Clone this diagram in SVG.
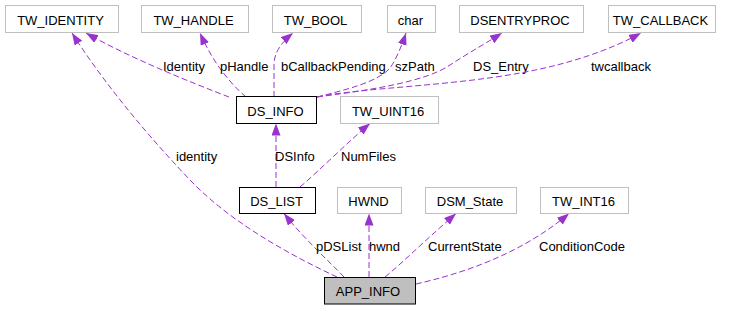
<svg xmlns="http://www.w3.org/2000/svg" width="733" height="309" viewBox="0 0 733 309">
  <style>
    text { font-family: "Liberation Sans", Arial, sans-serif; font-size: 13px; fill: #000; }
    .node text { text-anchor: middle; }
    .box { fill: #fff; stroke: #bfbfbf; stroke-width: 1; }
    .doc { fill: #fff; stroke: #000; stroke-width: 1; }
    .root { fill: #bfbfbf; stroke: #000; stroke-width: 1; }
    .edge { fill: none; stroke: #9a32cd; stroke-width: 1; stroke-dasharray: 6,3; marker-end: url(#arr); }
  </style>
  <defs>
    <marker id="arr" markerUnits="userSpaceOnUse" markerWidth="12" markerHeight="9" refX="12" refY="4.5" orient="auto">
      <path d="M0,0 L12,4.5 L0,9 z" fill="#9a32cd"/>
    </marker>
  </defs>
  <rect width="733" height="309" fill="#fff"/>

  <!-- usage connectors -->
  <g id="edges">
    <path class="edge" d="M229,97 C190,82 130,58 86,33"/>
    <text x="163" y="70.5">Identity</text>
    <path class="edge" d="M337,277 C290,255 230,222 190,180 C150,138 105,85 72,33"/>
    <text x="176" y="160.5">identity</text>
    <path class="edge" d="M246,97 C232,85 214,65 200,33"/>
    <text x="220" y="70.5">pHandle</text>
    <path class="edge" d="M274,97 L274,65 C274,52 282,42 293,33"/>
    <text x="281" y="70.5">bCallbackPending</text>
    <path class="edge" d="M317,97 C345,90 378,82 390,68 C396,60 402,45 406,33"/>
    <text x="395" y="70.5">szPath</text>
    <path class="edge" d="M317,97 C370,90 425,82 450,65 C470,52 488,42 502,33"/>
    <text x="473" y="70.5">DS_Entry</text>
    <path class="edge" d="M317,97 C360,88 450,86 520,73 C570,64 610,50 641,33"/>
    <text x="591" y="70.5">twcallback</text>
    <path class="edge" d="M276,187 L276,123.5"/>
    <text x="275" y="160.5">DSInfo</text>
    <path class="edge" d="M300,187 C320,170 350,140 370,123.5"/>
    <text x="341" y="160.5">NumFiles</text>
    <path class="edge" d="M344,277 C330,262 305,240 284,213.5"/>
    <text x="316" y="250.5">pDSList</text>
    <path class="edge" d="M369,277 L369,213.5"/>
    <text x="369" y="250.5">hwnd</text>
    <path class="edge" d="M385,277 C400,265 420,245 456,213.5"/>
    <text x="428" y="250.5">CurrentState</text>
    <path class="edge" d="M416,284 C460,274 520,255 569,213.5"/>
    <text x="539" y="250.5">ConditionCode</text>
  </g>

  <!-- nodes -->
  <g id="TW_IDENTITY" class="node"><rect class="box" x="5.5" y="5.5" width="113" height="27"/><text x="60.5" y="24.5">TW_IDENTITY</text></g>
  <g id="TW_HANDLE" class="node"><rect class="box" x="141.5" y="5.5" width="107" height="27"/><text x="193.5" y="24.5">TW_HANDLE</text></g>
  <g id="TW_BOOL" class="node"><rect class="box" x="272.5" y="5.5" width="89" height="27"/><text x="315.5" y="24.5">TW_BOOL</text></g>
  <g id="char" class="node"><rect class="box" x="387.5" y="5.5" width="48" height="27"/><text x="410.5" y="24.5">char</text></g>
  <g id="DSENTRYPROC" class="node"><rect class="box" x="459.5" y="5.5" width="124" height="27"/><text x="520" y="24.5">DSENTRYPROC</text></g>
  <g id="TW_CALLBACK" class="node"><rect class="box" x="608.5" y="5.5" width="107" height="27"/><text x="660.5" y="24.5">TW_CALLBACK</text></g>
  <g id="DS_INFO" class="node"><rect class="doc" x="236.5" y="96.5" width="80" height="27"/><text x="275.5" y="115.5">DS_INFO</text></g>
  <g id="TW_UINT16" class="node"><rect class="box" x="340.5" y="96.5" width="98" height="27"/><text x="388" y="115.5">TW_UINT16</text></g>
  <g id="DS_LIST" class="node"><rect class="doc" x="239.5" y="187.5" width="76" height="26"/><text x="276.5" y="206">DS_LIST</text></g>
  <g id="HWND" class="node"><rect class="box" x="337.5" y="187.5" width="64" height="26"/><text x="368.5" y="206">HWND</text></g>
  <g id="DSM_State" class="node"><rect class="box" x="425.5" y="187.5" width="91" height="26"/><text x="470" y="206">DSM_State</text></g>
  <g id="TW_INT16" class="node"><rect class="box" x="540.5" y="187.5" width="88" height="26"/><text x="583.5" y="206">TW_INT16</text></g>
  <g id="APP_INFO" class="node"><rect class="root" x="324.5" y="277.5" width="91" height="26.5"/><text x="368" y="296">APP_INFO</text></g>
</svg>
